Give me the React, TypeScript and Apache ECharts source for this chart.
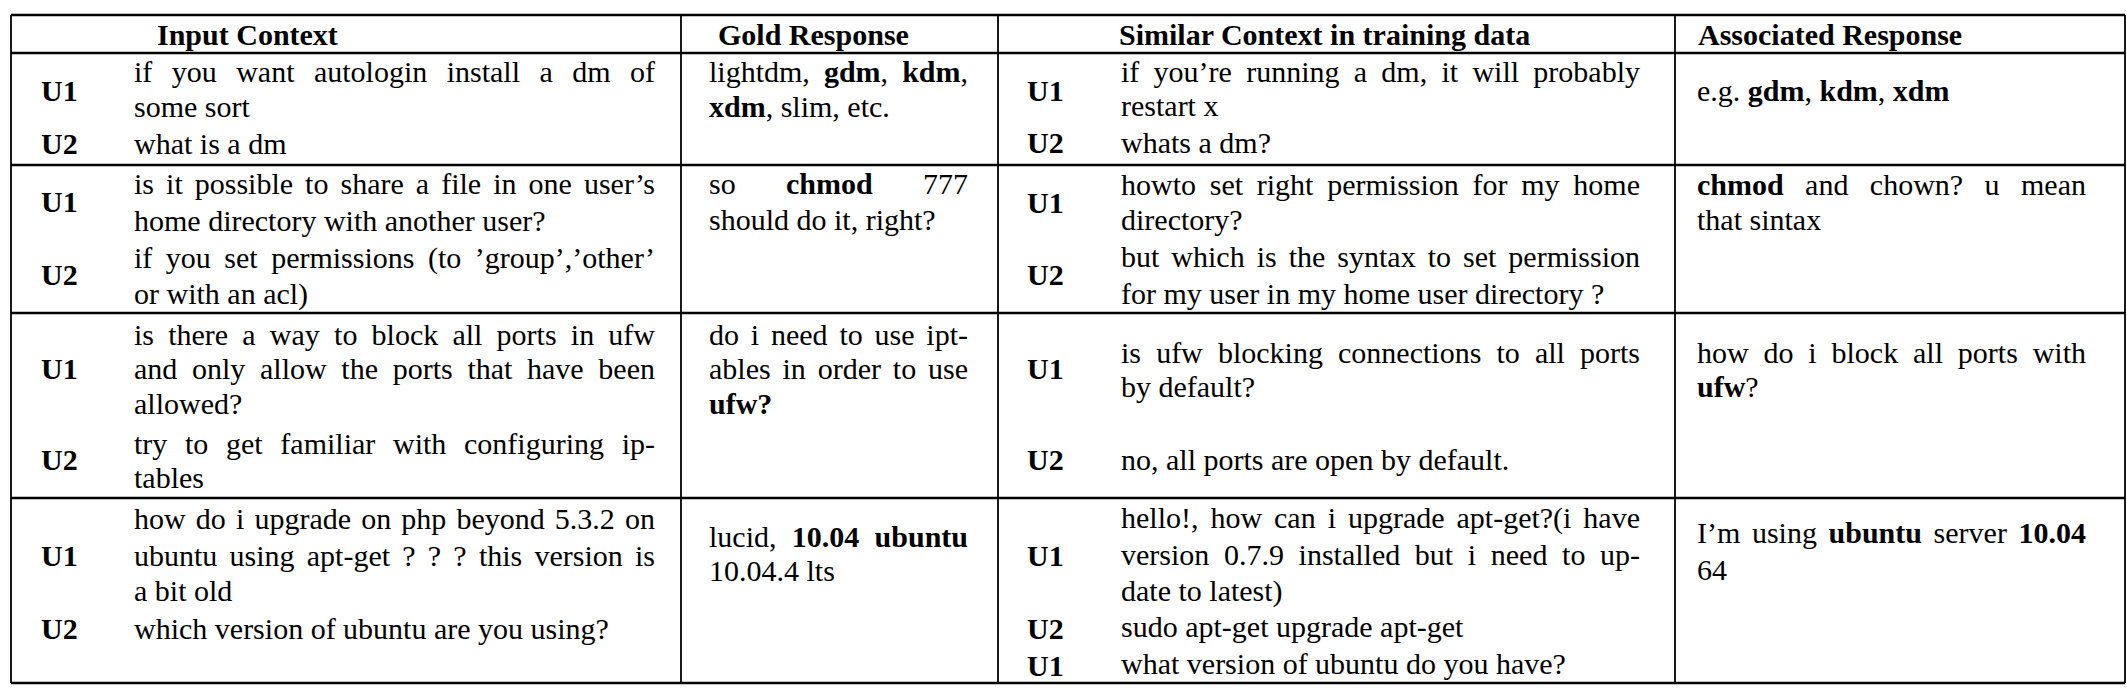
import { useEffect, useRef } from 'react';
import * as echarts from 'echarts';

// column edges and row edges of the table
const colEdges = [11, 681, 998, 1675, 2125];
const rowEdges = [15, 53, 165, 313, 498, 683];

const headers = ['Input Context', 'Gold Response', 'Similar Context in training data', 'Associated Response'];
const headerX = [157, 718, 1119, 1698];

// text column: start x and width
const textCols = [
  { x: 134, w: 521 },
  { x: 709, w: 259 },
  { x: 1121, w: 519 },
  { x: 1697, w: 389 },
];

// speaker labels: [column (0 = input, 2 = similar), y, label]
const speakers: [number, number, string][] = [
  [0, 90, 'U1'], [0, 143, 'U2'],
  [0, 201, 'U1'], [0, 274, 'U2'],
  [0, 368, 'U1'], [0, 459, 'U2'],
  [0, 555, 'U1'], [0, 628, 'U2'],
  [2, 90, 'U1'], [2, 142, 'U2'],
  [2, 202, 'U1'], [2, 274, 'U2'],
  [2, 368, 'U1'], [2, 459, 'U2'],
  [2, 555, 'U1'], [2, 628, 'U2'], [2, 665, 'U1'],
];
const speakerX = [41, 1027];

// lines: [column, y, text (**bold**), justified]
const lines: [number, number, string, boolean][] = [
  [0, 71, 'if you want autologin install a dm of', true],
  [0, 106, 'some sort', false],
  [0, 143, 'what is a dm', false],
  [1, 71, 'lightdm, **gdm**, **kdm**,', true],
  [1, 106, '**xdm**, slim, etc.', false],
  [2, 71, 'if you’re running a dm, it will probably', true],
  [2, 105, 'restart x', false],
  [2, 142, 'whats a dm?', false],
  [3, 90, 'e.g. **gdm**, **kdm**, **xdm**', false],

  [0, 183, 'is it possible to share a file in one user’s', true],
  [0, 220, 'home directory with another user?', false],
  [0, 257, 'if you set permissions (to ’group’,’other’', true],
  [0, 293, 'or with an acl)', false],
  [1, 183, 'so **chmod** 777', true],
  [1, 219, 'should do it, right?', false],
  [2, 184, 'howto set right permission for my home', true],
  [2, 219, 'directory?', false],
  [2, 256, 'but which is the syntax to set permission', true],
  [2, 293, 'for my user in my home user directory ?', false],
  [3, 184, '**chmod** and chown?  u mean', true],
  [3, 219, 'that sintax', false],

  [0, 334, 'is there a way to block all ports in ufw', true],
  [0, 368, 'and only allow the ports that have been', true],
  [0, 403, 'allowed?', false],
  [0, 443, 'try to get familiar with configuring ip-', true],
  [0, 477, 'tables', false],
  [1, 334, 'do i need to use ipt-', true],
  [1, 368, 'ables in order to use', true],
  [1, 403, '**ufw?**', false],
  [2, 352, 'is ufw blocking connections to all ports', true],
  [2, 386, 'by default?', false],
  [2, 459, 'no, all ports are open by default.', false],
  [3, 352, 'how do i block all ports with', true],
  [3, 386, '**ufw**?', false],

  [0, 518, 'how do i upgrade on php beyond 5.3.2 on', true],
  [0, 555, 'ubuntu using apt-get ? ? ? this version is', true],
  [0, 590, 'a bit old', false],
  [0, 628, 'which version of ubuntu are you using?', false],
  [1, 536, 'lucid, **10.04 ubuntu**', true],
  [1, 570, '10.04.4 lts', false],
  [2, 517, 'hello!, how can i upgrade apt-get?(i have', true],
  [2, 554, 'version 0.7.9 installed but i need to up-', true],
  [2, 590, 'date to latest)', false],
  [2, 626, 'sudo apt-get upgrade apt-get', false],
  [2, 663, 'what version of ubuntu do you have?', false],
  [3, 532, 'I’m using **ubuntu** server **10.04**', true],
  [3, 569, '64', false],
];

const FONT = '"Liberation Serif", "Times New Roman", serif';
const SIZE = 30;

export default function App() {
  const ref = useRef<HTMLDivElement>(null);

  useEffect(() => {
    if (!ref.current) return;
    const chart = echarts.init(ref.current, undefined, { renderer: 'svg' });
    const ctx = document.createElement('canvas').getContext('2d')!;
    const measure = (s: string, bold: boolean) => {
      ctx.font = `${bold ? 'bold ' : ''}${SIZE}px ${FONT}`;
      return ctx.measureText(s).width;
    };
    const spaceW = measure(' ', false);

    const els: any[] = [];
    const txt = (x: number, y: number, s: string, bold: boolean) =>
      els.push({
        type: 'text',
        x,
        y,
        style: {
          text: s,
          fill: '#000',
          font: `${bold ? 'bold ' : ''}${SIZE}px ${FONT}`,
          verticalAlign: 'middle',
        },
      });

    for (const [col, y, text, just] of lines) {
      // split into words; bold state carries across words
      let bold = false;
      const words: [string, boolean][][] = [];
      for (const w of text.split(/ +/)) {
        const segs: [string, boolean][] = [];
        w.split('**').forEach((p, i) => {
          if (i > 0) bold = !bold;
          if (p) segs.push([p, bold]);
        });
        words.push(segs);
      }
      const widths = words.map((ws) => ws.reduce((a, [s, b]) => a + measure(s, b), 0));
      const total = widths.reduce((a, b) => a + b, 0);
      const { x: cx, w } = textCols[col];
      let gap = spaceW;
      if (just && words.length > 1) gap = Math.max(spaceW * 0.5, (w - total) / (words.length - 1));
      let x = cx;
      words.forEach((ws, i) => {
        let xx = x;
        for (const [s, b] of ws) {
          txt(xx, y, s, b);
          xx += measure(s, b);
        }
        x += widths[i] + gap;
      });
    }

    for (const [col, y, label] of speakers) txt(speakerX[col === 0 ? 0 : 1], y, label, true);
    headers.forEach((h, i) => txt(headerX[i], (rowEdges[0] + rowEdges[1]) / 2, h, true));

    const L = colEdges[0];
    const R = colEdges[colEdges.length - 1];
    rowEdges.forEach((y) =>
      els.push({ type: 'line', shape: { x1: L, y1: y, x2: R, y2: y }, style: { stroke: '#000', lineWidth: 2.5 } })
    );
    colEdges.forEach((x) =>
      els.push({
        type: 'line',
        shape: { x1: x, y1: rowEdges[0], x2: x, y2: rowEdges[rowEdges.length - 1] },
        style: { stroke: '#000', lineWidth: 1.8 },
      })
    );

    chart.setOption({ animation: false, backgroundColor: '#fff', graphic: { elements: els } });
    return () => chart.dispose();
  }, []);

  return (
    <div
      ref={ref}
      style={{ position: 'fixed', left: 0, top: 0, width: 2127, height: 698, background: '#fff' }}
    />
  );
}
